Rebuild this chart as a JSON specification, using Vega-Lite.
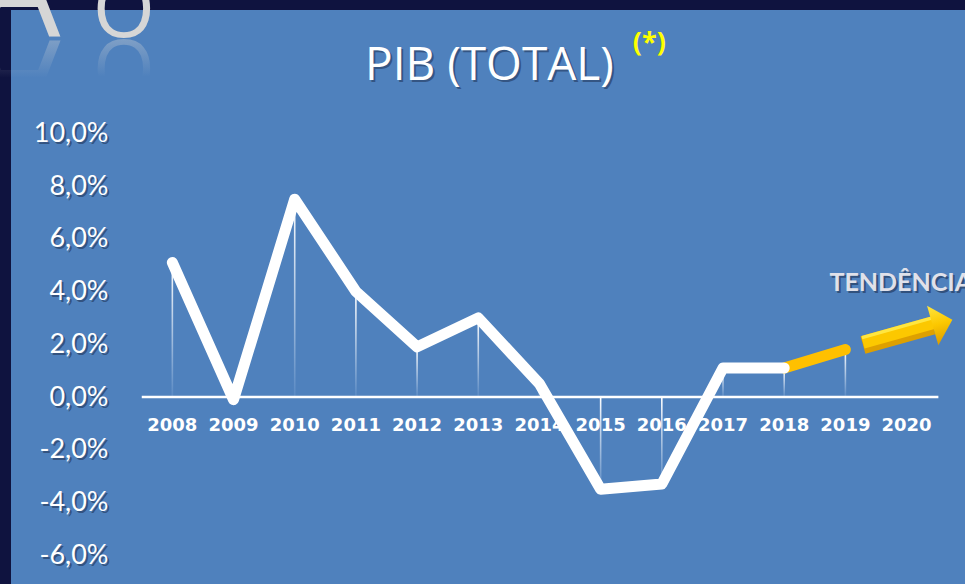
{
  "$schema": "https://vega.github.io/schema/vega-lite/v6.json",
  "width": 954,
  "height": 574,
  "autosize": {"type": "none"},
  "padding": {"left": 11, "top": 10, "right": 0, "bottom": 0},
  "background": "#0f133f",
  "config": {"view": {"fill": "#4f81bd", "stroke": null}},
  "data": {
    "values": [
      {"year": 2008, "pib": 5.1, "tipo": "realizado"},
      {"year": 2009, "pib": -0.1, "tipo": "realizado"},
      {"year": 2010, "pib": 7.5, "tipo": "realizado"},
      {"year": 2011, "pib": 4.0, "tipo": "realizado"},
      {"year": 2012, "pib": 1.9, "tipo": "realizado"},
      {"year": 2013, "pib": 3.0, "tipo": "realizado"},
      {"year": 2014, "pib": 0.5, "tipo": "realizado"},
      {"year": 2015, "pib": -3.5, "tipo": "realizado"},
      {"year": 2016, "pib": -3.3, "tipo": "realizado"},
      {"year": 2017, "pib": 1.1, "tipo": "realizado"},
      {"year": 2018, "pib": 1.1, "tipo": "realizado"},
      {"year": 2019, "pib": 1.8, "tipo": "projeção"},
      {"year": 2020, "pib": null, "tipo": "projeção"}
    ]
  },
  "resolve": {"axis": {"y": "independent"}},
  "layer": [
    {
      "transform": [{"filter": "isValid(datum.pib) && datum.year != 2009"}],
      "mark": {
        "type": "bar",
        "width": 1.6,
        "color": {
          "gradient": "linear", "x1": 0, "y1": 0, "x2": 0, "y2": 1,
          "stops": [{"offset": 0, "color": "#ffffff"}, {"offset": 1, "color": "#5a8ac4"}]
        }
      },
      "encoding": {
        "x": {"field": "year", "type": "quantitative", "scale": {"domain": [2005.4447, 2020.8733], "nice": false, "zero": false}, "axis": null},
        "y": {
          "field": "pib", "type": "quantitative",
          "scale": {"domain": [-7.09, 14.673], "nice": false, "zero": false},
          "axis": {
            "orient": "left", "offset": -101, "labelOffset": 2, "labelPadding": 2,
            "ticks": false, "domain": false, "grid": false, "title": null,
            "values": [-6, -4, -2, 0, 2, 4, 6, 8, 10],
            "labelExpr": "(datum.value < 0 ? '-' : '') + replace(format(abs(datum.value), '.1f'), '.', ',') + '%'",
            "labelFont": "Lato", "labelFontSize": 27, "labelColor": "#1c2c4c", "labelOpacity": 0.55,
            "labelBaseline": "middle", "labelAlign": "right"
          }
        },
        "y2": {"datum": 0}
      }
    },
    {
      "data": {"values": [{}]},
      "mark": {"type": "rule", "color": "#ffffff", "strokeWidth": 2.5},
      "encoding": {
        "x": {"datum": 2007.5, "type": "quantitative", "scale": {"domain": [2005.4447, 2020.8733], "nice": false, "zero": false}, "axis": null},
        "x2": {"datum": 2020.52},
        "y": {"datum": 0, "type": "quantitative", "scale": {"domain": [-7.09, 14.673], "nice": false, "zero": false}, "axis": null}
      }
    },
    {
      "mark": {"type": "text", "font": "DejaVu Sans", "fontWeight": "bold", "fontSize": 18, "color": "#ffffff", "baseline": "alphabetic", "align": "center", "dy": 34},
      "encoding": {
        "x": {"field": "year", "type": "quantitative", "scale": {"domain": [2005.4447, 2020.8733], "nice": false, "zero": false}, "axis": null},
        "y": {"datum": 0, "type": "quantitative", "scale": {"domain": [-7.09, 14.673], "nice": false, "zero": false}, "axis": null},
        "text": {"field": "year", "type": "nominal"}
      }
    },
    {
      "transform": [{"filter": "datum.year >= 2018 && datum.year <= 2019"}],
      "mark": {"type": "line", "color": "#ffc000", "strokeWidth": 11, "strokeCap": "round", "strokeJoin": "round"},
      "encoding": {
        "x": {"field": "year", "type": "quantitative", "scale": {"domain": [2005.4447, 2020.8733], "nice": false, "zero": false}, "axis": null},
        "y": {"field": "pib", "type": "quantitative", "scale": {"domain": [-7.09, 14.673], "nice": false, "zero": false}, "axis": null}
      }
    },
    {
      "transform": [{"filter": "isValid(datum.pib) && datum.year <= 2018"}],
      "mark": {"type": "line", "color": "#ffffff", "strokeWidth": 11, "strokeCap": "round", "strokeJoin": "round"},
      "encoding": {
        "x": {"field": "year", "type": "quantitative", "scale": {"domain": [2005.4447, 2020.8733], "nice": false, "zero": false}, "axis": null},
        "y": {
          "field": "pib", "type": "quantitative",
          "scale": {"domain": [-7.09, 14.673], "nice": false, "zero": false},
          "axis": {
            "orient": "left", "offset": -99, "labelPadding": 2,
            "ticks": false, "domain": false, "grid": false, "title": null,
            "values": [-6, -4, -2, 0, 2, 4, 6, 8, 10],
            "labelExpr": "(datum.value < 0 ? '-' : '') + replace(format(abs(datum.value), '.1f'), '.', ',') + '%'",
            "labelFont": "Lato", "labelFontSize": 27, "labelColor": "#ffffff",
            "labelBaseline": "middle", "labelAlign": "right"
          }
        }
      }
    },
    {
      "data": {"values": [{}]},
      "mark": {"type": "rule", "color": "#dea000", "strokeWidth": 18, "strokeCap": "butt"},
      "encoding": {
        "x": {"datum": 2019.288, "type": "quantitative", "scale": {"domain": [2005.4447, 2020.8733], "nice": false, "zero": false}, "axis": null},
        "x2": {"datum": 2020.429},
        "y": {"datum": 1.972, "type": "quantitative", "scale": {"domain": [-7.09, 14.673], "nice": false, "zero": false}, "axis": null},
        "y2": {"datum": 2.711}
      }
    },
    {
      "data": {"values": [{}]},
      "mark": {"type": "rule", "color": "#fcc800", "strokeWidth": 12, "strokeCap": "butt"},
      "encoding": {
        "x": {"datum": 2019.288, "type": "quantitative", "scale": {"domain": [2005.4447, 2020.8733], "nice": false, "zero": false}, "axis": null},
        "x2": {"datum": 2020.429},
        "y": {"datum": 2.06, "type": "quantitative", "scale": {"domain": [-7.09, 14.673], "nice": false, "zero": false}, "axis": null},
        "y2": {"datum": 2.8}
      }
    },
    {
      "data": {"values": [{}]},
      "mark": {"type": "rule", "color": "#ffe640", "strokeWidth": 3.5, "strokeCap": "butt"},
      "encoding": {
        "x": {"datum": 2019.27, "type": "quantitative", "scale": {"domain": [2005.4447, 2020.8733], "nice": false, "zero": false}, "axis": null},
        "x2": {"datum": 2020.42},
        "y": {"datum": 2.25, "type": "quantitative", "scale": {"domain": [-7.09, 14.673], "nice": false, "zero": false}, "axis": null},
        "y2": {"datum": 3.0}
      }
    },
    {
      "data": {"values": [{}]},
      "mark": {
        "type": "point", "shape": "M -0.5 -1 L 0.5 0 L -0.5 1 Z", "size": 1681, "angle": -16, "filled": true, "opacity": 1, "strokeWidth": 0,
        "color": {
          "gradient": "linear", "x1": 0, "y1": 0, "x2": 0, "y2": 1,
          "stops": [{"offset": 0, "color": "#ffe640"}, {"offset": 0.5, "color": "#fcc800"}, {"offset": 1, "color": "#dc9c00"}]
        }
      },
      "encoding": {
        "x": {"datum": 2020.588, "type": "quantitative", "scale": {"domain": [2005.4447, 2020.8733], "nice": false, "zero": false}, "axis": null},
        "y": {"datum": 2.818, "type": "quantitative", "scale": {"domain": [-7.09, 14.673], "nice": false, "zero": false}, "axis": null}
      }
    },
    {
      "data": {"values": [{}]},
      "mark": {"type": "text", "font": "Lato", "fontWeight": "bold", "fontSize": 25, "color": "#1a2a4a", "opacity": 0.55, "align": "left", "baseline": "alphabetic", "dx": 2, "dy": 2},
      "encoding": {
        "x": {"datum": 2018.739, "type": "quantitative", "scale": {"domain": [2005.4447, 2020.8733], "nice": false, "zero": false}, "axis": null},
        "y": {"datum": 4.019, "type": "quantitative", "scale": {"domain": [-7.09, 14.673], "nice": false, "zero": false}, "axis": null},
        "text": {"value": "TENDÊNCIA"}
      }
    },
    {
      "data": {"values": [{}]},
      "mark": {"type": "text", "font": "Lato", "fontWeight": "bold", "fontSize": 25, "color": "#e0e1ea", "align": "left", "baseline": "alphabetic"},
      "encoding": {
        "x": {"datum": 2018.739, "type": "quantitative", "scale": {"domain": [2005.4447, 2020.8733], "nice": false, "zero": false}, "axis": null},
        "y": {"datum": 4.019, "type": "quantitative", "scale": {"domain": [-7.09, 14.673], "nice": false, "zero": false}, "axis": null},
        "text": {"value": "TENDÊNCIA"}
      }
    },
    {
      "data": {"values": [{}]},
      "mark": {"type": "text", "font": "Open Sans", "fontSize": 46, "color": "#1a2a4a", "opacity": 0.5, "align": "center", "baseline": "alphabetic", "dx": 2, "dy": 2},
      "encoding": {
        "x": {"datum": 2013.183, "type": "quantitative", "scale": {"domain": [2005.4447, 2020.8733], "nice": false, "zero": false}, "axis": null},
        "y": {"datum": 12.019, "type": "quantitative", "scale": {"domain": [-7.09, 14.673], "nice": false, "zero": false}, "axis": null},
        "text": {"value": "PIB (TOTAL)"}
      }
    },
    {
      "data": {"values": [{}]},
      "mark": {"type": "text", "font": "Open Sans", "fontSize": 46, "color": "#ffffff", "align": "center", "baseline": "alphabetic"},
      "encoding": {
        "x": {"datum": 2013.183, "type": "quantitative", "scale": {"domain": [2005.4447, 2020.8733], "nice": false, "zero": false}, "axis": null},
        "y": {"datum": 12.019, "type": "quantitative", "scale": {"domain": [-7.09, 14.673], "nice": false, "zero": false}, "axis": null},
        "text": {"value": "PIB (TOTAL)"}
      }
    },
    {
      "data": {"values": [{}]},
      "mark": {"type": "text", "font": "Open Sans", "fontWeight": "bold", "fontSize": 27, "color": "#ffff00", "align": "center", "baseline": "alphabetic"},
      "encoding": {
        "x": {"datum": 2015.795, "type": "quantitative", "scale": {"domain": [2005.4447, 2020.8733], "nice": false, "zero": false}, "axis": null},
        "y": {"datum": 13.1, "type": "quantitative", "scale": {"domain": [-7.09, 14.673], "nice": false, "zero": false}, "axis": null},
        "text": {"value": "(*)"}
      }
    },
    {
      "data": {"values": [{}]},
      "mark": {"type": "text", "font": "Open Sans", "fontSize": 130, "color": "#d6d6d6", "align": "right", "baseline": "alphabetic"},
      "encoding": {
        "x": {"datum": 2006.172, "type": "quantitative", "scale": {"domain": [2005.4447, 2020.8733], "nice": false, "zero": false}, "axis": null},
        "y": {"datum": 13.649, "type": "quantitative", "scale": {"domain": [-7.09, 14.673], "nice": false, "zero": false}, "axis": null},
        "text": {"value": "A"}
      }
    },
    {
      "data": {"values": [{}]},
      "mark": {"type": "text", "font": "Open Sans", "fontSize": 80, "color": "#d6d6d6", "align": "center", "baseline": "alphabetic"},
      "encoding": {
        "x": {"datum": 2007.2076, "type": "quantitative", "scale": {"domain": [2005.4447, 2020.8733], "nice": false, "zero": false}, "axis": null},
        "y": {"datum": 13.649, "type": "quantitative", "scale": {"domain": [-7.09, 14.673], "nice": false, "zero": false}, "axis": null},
        "text": {"value": "O"}
      }
    },
    {
      "data": {"values": [{}]},
      "mark": {
        "type": "text", "font": "Open Sans", "fontSize": 130, "align": "left", "baseline": "alphabetic", "angle": 180,
        "color": {
          "gradient": "linear", "x1": 0, "y1": 0, "x2": 0, "y2": 1,
          "stops": [{"offset": 0, "color": "rgba(214,214,214,0)"}, {"offset": 0.57, "color": "rgba(214,214,214,0)"}, {"offset": 0.785, "color": "rgba(214,214,214,0.35)"}, {"offset": 1, "color": "rgba(214,214,214,0.35)"}]
        }
      },
      "encoding": {
        "x": {"datum": 2006.172, "type": "quantitative", "scale": {"domain": [2005.4447, 2020.8733], "nice": false, "zero": false}, "axis": null},
        "y": {"datum": 13.55, "type": "quantitative", "scale": {"domain": [-7.09, 14.673], "nice": false, "zero": false}, "axis": null},
        "text": {"value": "A"}
      }
    },
    {
      "data": {"values": [{}]},
      "mark": {
        "type": "text", "font": "Open Sans", "fontSize": 80, "align": "center", "baseline": "alphabetic", "angle": 180,
        "color": {
          "gradient": "linear", "x1": 0, "y1": 0, "x2": 0, "y2": 1,
          "stops": [{"offset": 0, "color": "rgba(214,214,214,0)"}, {"offset": 0.45, "color": "rgba(214,214,214,0)"}, {"offset": 0.785, "color": "rgba(214,214,214,0.35)"}, {"offset": 1, "color": "rgba(214,214,214,0.35)"}]
        }
      },
      "encoding": {
        "x": {"datum": 2007.2076, "type": "quantitative", "scale": {"domain": [2005.4447, 2020.8733], "nice": false, "zero": false}, "axis": null},
        "y": {"datum": 13.55, "type": "quantitative", "scale": {"domain": [-7.09, 14.673], "nice": false, "zero": false}, "axis": null},
        "text": {"value": "O"}
      }
    }
  ]
}
